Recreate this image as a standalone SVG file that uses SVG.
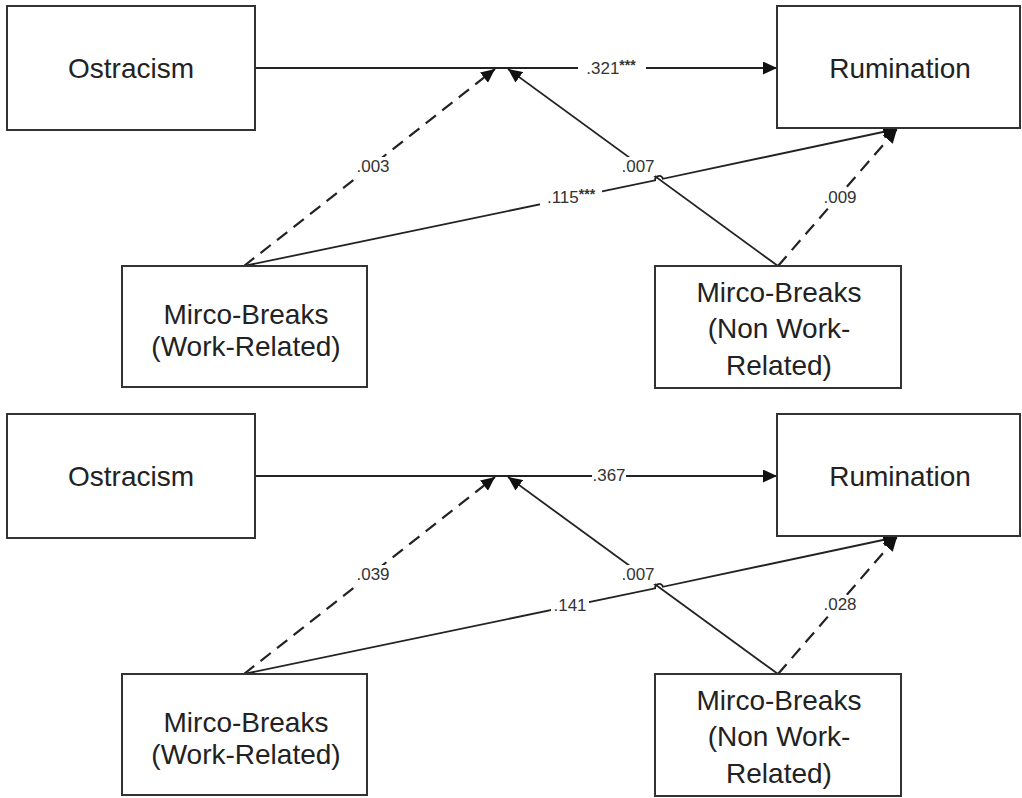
<svg xmlns="http://www.w3.org/2000/svg" width="1022" height="798" viewBox="0 0 1022 798">
<style>
.box{fill:#fff;stroke:#333;stroke-width:2}
.nt{font-family:"Liberation Sans",Arial,sans-serif;font-size:28px;fill:#222;text-anchor:middle}
.ln{fill:none;stroke:#222;stroke-width:1.8}
.ds{fill:none;stroke:#222;stroke-width:2.2;stroke-dasharray:13 8}
.lb{font-family:"Liberation Sans",Arial,sans-serif;font-size:17px;fill:#333;text-anchor:middle}
.bg{fill:#fff}
.st{font-size:14px;font-weight:bold}
</style>
<defs>
<marker id="ah" markerUnits="userSpaceOnUse" markerWidth="15" markerHeight="13" refX="14" refY="6.5" orient="auto">
<path d="M0,0 L14,6.5 L0,13 z" fill="#111"/>
</marker>
</defs>
<rect width="1022" height="798" fill="#fff"/>

<g id="connectors">
<!-- top panel -->
<path class="ln" d="M255,68 L777,68" marker-end="url(#ah)"/>
<path class="ds" d="M244,266 L495,69" marker-end="url(#ah)"/>
<path class="ln" d="M778,266 L508,69" marker-end="url(#ah)"/>
<path class="ln" d="M244,266 L655.1,180.4 A4,4 0 0 1 662.9,178.8 L897,129" marker-end="url(#ah)"/>
<path class="ds" d="M778,266 L897,129" marker-end="url(#ah)"/>
<!-- bottom panel -->
<path class="ln" d="M255,476 L777,476" marker-end="url(#ah)"/>
<path class="ds" d="M244,674 L495,477" marker-end="url(#ah)"/>
<path class="ln" d="M778,674 L508,477" marker-end="url(#ah)"/>
<path class="ln" d="M244,674 L655.1,588.4 A4,4 0 0 1 662.9,586.8 L897,537" marker-end="url(#ah)"/>
<path class="ds" d="M778,674 L897,537" marker-end="url(#ah)"/>
</g>

<g id="labels">
<rect class="bg" x="578" y="59" width="68" height="18"/>
<text class="lb" x="611" y="74">.321<tspan class="st" dy="-4">***</tspan></text>
<rect class="bg" x="356" y="157" width="34" height="19"/>
<text class="lb" x="373" y="172">.003</text>
<rect class="bg" x="621" y="157" width="34" height="19"/>
<text class="lb" x="638" y="172">.007</text>
<rect class="bg" x="540" y="188" width="62" height="19"/>
<text class="lb" x="571" y="203">.115<tspan class="st" dy="-4">***</tspan></text>
<rect class="bg" x="823" y="188" width="34" height="19"/>
<text class="lb" x="840" y="203">.009</text>

<rect class="bg" x="592" y="467" width="34" height="18"/>
<text class="lb" x="609" y="481">.367</text>
<rect class="bg" x="356" y="565" width="34" height="19"/>
<text class="lb" x="373" y="580">.039</text>
<rect class="bg" x="621" y="565" width="34" height="19"/>
<text class="lb" x="638" y="580">.007</text>
<rect class="bg" x="551" y="596" width="38" height="19"/>
<text class="lb" x="570" y="611">.141</text>
<rect class="bg" x="823" y="595" width="34" height="19"/>
<text class="lb" x="840" y="610">.028</text>
</g>

<g id="ostracism1">
<rect class="box" x="7" y="6" width="248" height="124"/>
<text class="nt" x="131" y="78">Ostracism</text>
</g>
<g id="rumination1">
<rect class="box" x="777" y="6" width="243" height="122"/>
<text class="nt" x="900" y="78">Rumination</text>
</g>
<g id="workrelated1">
<rect class="box" x="122" y="266" width="245" height="121"/>
<text class="nt" x="246" y="324">Mirco-Breaks</text>
<text class="nt" x="246" y="356">(Work-Related)</text>
</g>
<g id="nonwork1">
<rect class="box" x="655" y="266" width="246" height="122"/>
<text class="nt" x="779" y="302">Mirco-Breaks</text>
<text class="nt" x="779" y="338">(Non Work-</text>
<text class="nt" x="779" y="375">Related)</text>
</g>

<g id="ostracism2">
<rect class="box" x="7" y="414" width="248" height="124"/>
<text class="nt" x="131" y="486">Ostracism</text>
</g>
<g id="rumination2">
<rect class="box" x="777" y="414" width="243" height="122"/>
<text class="nt" x="900" y="486">Rumination</text>
</g>
<g id="workrelated2">
<rect class="box" x="122" y="674" width="245" height="121"/>
<text class="nt" x="246" y="732">Mirco-Breaks</text>
<text class="nt" x="246" y="764">(Work-Related)</text>
</g>
<g id="nonwork2">
<rect class="box" x="655" y="674" width="246" height="122"/>
<text class="nt" x="779" y="710">Mirco-Breaks</text>
<text class="nt" x="779" y="746">(Non Work-</text>
<text class="nt" x="779" y="783">Related)</text>
</g>
</svg>
